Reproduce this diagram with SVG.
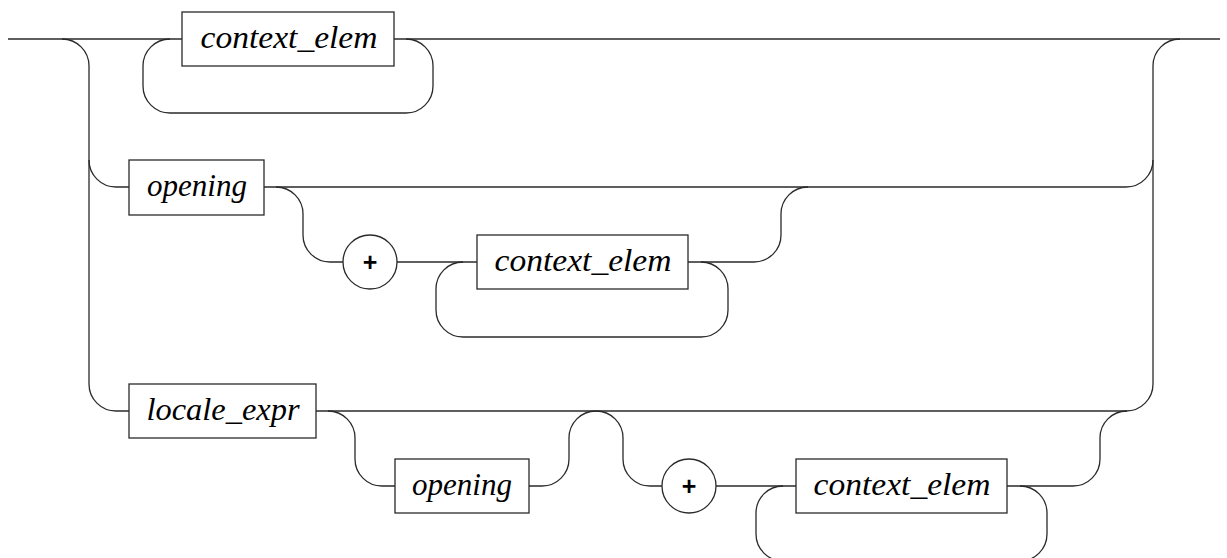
<svg xmlns="http://www.w3.org/2000/svg" width="1227" height="558" viewBox="0 0 1227 558">
<style>
.c{fill:none;stroke:#2a2a2a;stroke-width:1.3}
.b{fill:#fff;stroke:#2a2a2a;stroke-width:1.3}
.t{font-family:"Liberation Serif","Times New Roman",serif;font-style:italic;font-size:32px;fill:#000;text-anchor:middle}
.p{font-family:"Liberation Sans",Arial,sans-serif;font-size:25px;font-weight:bold;fill:#000;text-anchor:middle}
</style>
<rect width="1227" height="558" fill="#fff"/>
<g id="connectors">
<path class="c" d="M8,39 H1220"/>
<path class="c" d="M62,39 A27,27 0 0 1 89,66 V384 A27,27 0 0 0 116,411 H129"/>
<path class="c" d="M89,160 A27,27 0 0 0 116,187 H129"/>
<path class="c" d="M170,39 A27,27 0 0 0 143,66 V86 A27,27 0 0 0 170,113 H406 A27,27 0 0 0 433,86 V66 A27,27 0 0 0 406,39"/>
<path class="c" d="M264,187 H1126 A27,27 0 0 0 1153,160"/>
<path class="c" d="M1126,411 A27,27 0 0 0 1153,384 V66 A27,27 0 0 1 1180,39"/>
<path class="c" d="M276,187 A27,27 0 0 1 303,214 V235 A27,27 0 0 0 330,262 H343"/>
<path class="c" d="M397,262 H477"/>
<path class="c" d="M688,262 H754 A27,27 0 0 0 781,235 V214 A27,27 0 0 1 808,187"/>
<path class="c" d="M463,262 A27,27 0 0 0 436,289 V310 A27,27 0 0 0 463,337 H701 A27,27 0 0 0 728,310 V289 A27,27 0 0 0 701,262"/>
<path class="c" d="M316,411 H1126"/>
<path class="c" d="M328,411 A27,27 0 0 1 355,438 V459 A27,27 0 0 0 382,486 H395"/>
<path class="c" d="M529,486 H542 A27,27 0 0 0 569,459 V438 A27,27 0 0 1 596,411 A27,27 0 0 1 623,438 V459 A27,27 0 0 0 650,486 H662"/>
<path class="c" d="M716,486 H796"/>
<path class="c" d="M783,486 A27,27 0 0 0 756,513 V534 A27,27 0 0 0 783,561 H1020 A27,27 0 0 0 1047,534 V513 A27,27 0 0 0 1020,486"/>
<path class="c" d="M1007,486 H1073 A27,27 0 0 0 1100,459 V438 A27,27 0 0 1 1127,411"/>
</g>
<g id="n1"><rect class="b" x="182" y="12" width="212" height="54"/><text class="t" x="289" y="48" textLength="177" lengthAdjust="spacingAndGlyphs">context_elem</text></g>
<g id="n2"><rect class="b" x="129" y="160" width="135" height="55"/><text class="t" x="197" y="196" textLength="100" lengthAdjust="spacingAndGlyphs">opening</text></g>
<g id="n3"><circle class="b" cx="370" cy="262" r="27"/><text class="p" x="370" y="271">+</text></g>
<g id="n4"><rect class="b" x="477" y="235" width="211" height="54"/><text class="t" x="583" y="271" textLength="177" lengthAdjust="spacingAndGlyphs">context_elem</text></g>
<g id="n5"><rect class="b" x="129" y="384" width="187" height="54"/><text class="t" x="223" y="420" textLength="153" lengthAdjust="spacingAndGlyphs">locale_expr</text></g>
<g id="n6"><rect class="b" x="395" y="459" width="134" height="54"/><text class="t" x="462" y="495" textLength="100" lengthAdjust="spacingAndGlyphs">opening</text></g>
<g id="n7"><circle class="b" cx="689" cy="486" r="27"/><text class="p" x="689" y="495">+</text></g>
<g id="n8"><rect class="b" x="796" y="459" width="211" height="54"/><text class="t" x="902" y="495" textLength="177" lengthAdjust="spacingAndGlyphs">context_elem</text></g>
</svg>
